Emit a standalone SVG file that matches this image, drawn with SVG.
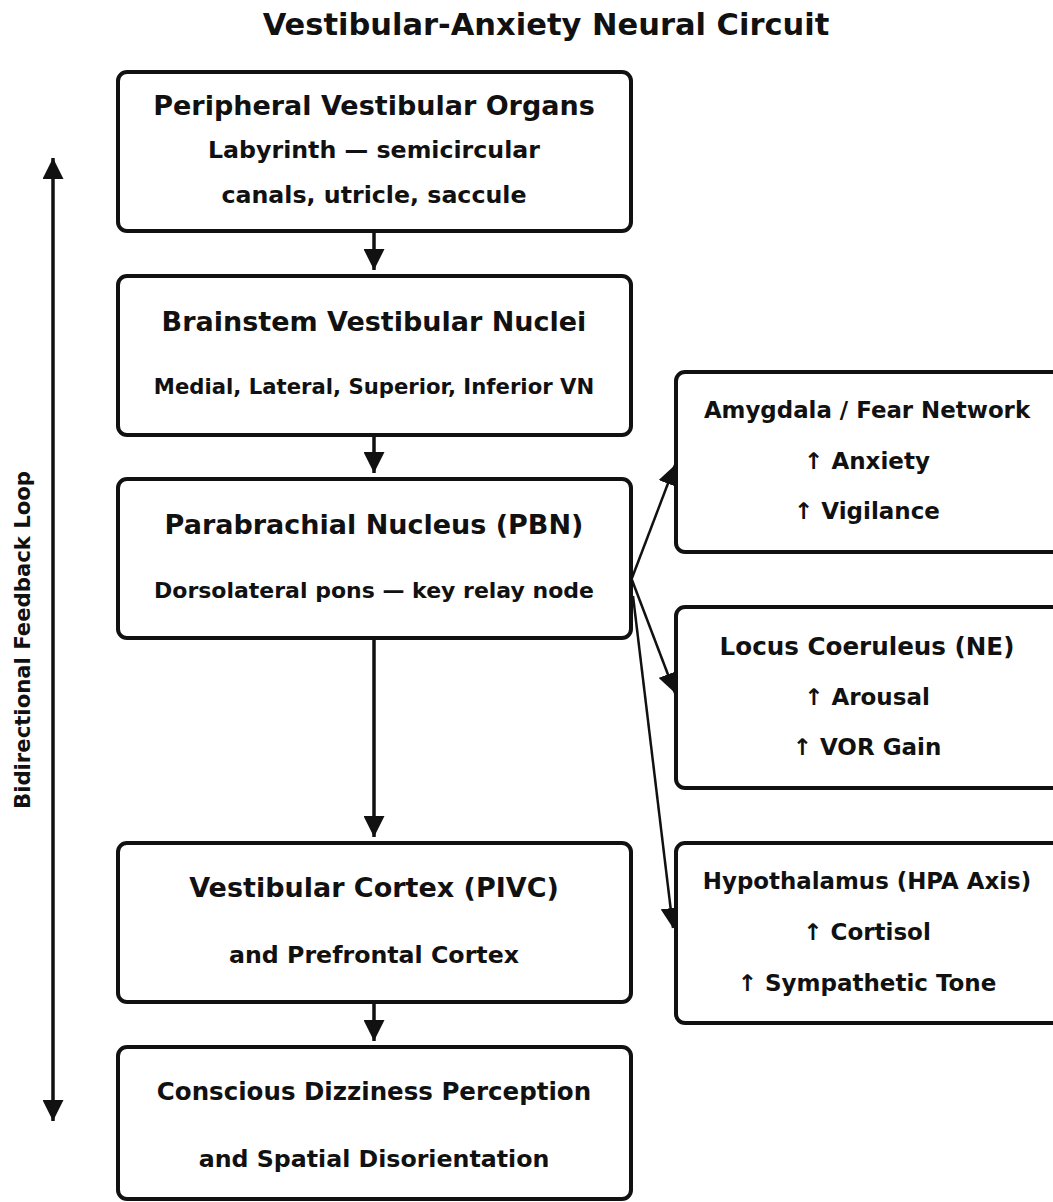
<svg xmlns="http://www.w3.org/2000/svg" width="1053" height="1202" viewBox="0 0 1053 1202">
  <style>
    text { font-family: "DejaVu Sans", "Liberation Sans", sans-serif; font-weight: bold; fill: #111; text-anchor: middle; }
    .box { fill: #fff; stroke: #111; stroke-width: 4; }
    .main { stroke: #111; stroke-width: 3.5; fill: none; }
    .side { stroke: #111; stroke-width: 2.5; fill: none; }
    .t1 { font-size: 27px; }
    .t2 { font-size: 23.7px; }
    .t3 { font-size: 21.2px; }
    .r1 { font-size: 22.9px; }
    .r2 { font-size: 23px; }
  </style>
  <defs>
    <marker id="head" viewBox="0 0 10 10" refX="10" refY="5" markerWidth="6" markerHeight="6" markerUnits="strokeWidth" orient="auto-start-reverse">
      <path d="M0,0 L10,5 L0,10 Z" fill="#111"/>
    </marker>
    <marker id="headS" viewBox="0 0 10 10" refX="10" refY="5" markerWidth="8" markerHeight="8" markerUnits="strokeWidth" orient="auto">
      <path d="M0,0 L10,5 L0,10 Z" fill="#111"/>
    </marker>
  </defs>
  <rect width="1053" height="1202" fill="#fff"/>

  <text x="546" y="35" style="font-size:30.5px">Vestibular-Anxiety Neural Circuit</text>

  <!-- connectors -->
  <g id="connectors">
    <line class="main" x1="374" y1="231" x2="374" y2="270" marker-end="url(#head)"/>
    <line class="main" x1="374" y1="435" x2="374" y2="473" marker-end="url(#head)"/>
    <line class="main" x1="374" y1="638" x2="374" y2="837" marker-end="url(#head)"/>
    <line class="main" x1="374" y1="1002" x2="374" y2="1041" marker-end="url(#head)"/>
    <line class="side" x1="632" y1="578" x2="675" y2="465" marker-end="url(#headS)"/>
    <line class="side" x1="632" y1="580" x2="675" y2="693" marker-end="url(#headS)"/>
    <line class="side" x1="633" y1="596" x2="673" y2="928" marker-end="url(#headS)"/>
    <line class="main" x1="53" y1="158" x2="53" y2="1121" marker-start="url(#head)" marker-end="url(#head)"/>
  </g>
  <text transform="translate(30,640) rotate(-90)" style="font-size:21.2px">Bidirectional Feedback Loop</text>

  <g id="peripheral">
    <rect class="box" x="118" y="72" width="513" height="159" rx="9"/>
    <text class="t1" x="374" y="115">Peripheral Vestibular Organs</text>
    <text class="t2" x="374" y="158">Labyrinth — semicircular</text>
    <text class="t2" x="374" y="203">canals, utricle, saccule</text>
  </g>
  <g id="brainstem">
    <rect class="box" x="118" y="276" width="513" height="159" rx="9"/>
    <text class="t1" x="374" y="331">Brainstem Vestibular Nuclei</text>
    <text class="t3" x="374" y="394">Medial, Lateral, Superior, Inferior VN</text>
  </g>
  <g id="pbn">
    <rect class="box" x="118" y="479" width="513" height="159" rx="9"/>
    <text class="t1" x="374" y="534">Parabrachial Nucleus (PBN)</text>
    <text class="t3" x="374" y="598" style="font-size:22px">Dorsolateral pons — key relay node</text>
  </g>
  <g id="cortex">
    <rect class="box" x="118" y="843" width="513" height="159" rx="9"/>
    <text class="t1" x="374" y="897">Vestibular Cortex (PIVC)</text>
    <text class="t2" x="374" y="963">and Prefrontal Cortex</text>
  </g>
  <g id="perception">
    <rect class="box" x="118" y="1047" width="513" height="152" rx="9"/>
    <text class="t2" x="374" y="1100" style="font-size:24.5px">Conscious Dizziness Perception</text>
    <text class="t2" x="374" y="1167">and Spatial Disorientation</text>
  </g>

  <g id="amygdala">
    <rect class="box" x="676" y="372" width="385" height="180" rx="9"/>
    <text class="r1" x="867" y="418">Amygdala / Fear Network</text>
    <text class="r2" x="867" y="469">↑ Anxiety</text>
    <text class="r2" x="867" y="519">↑ Vigilance</text>
  </g>
  <g id="locus">
    <rect class="box" x="676" y="607" width="385" height="181" rx="9"/>
    <text class="r1" x="867" y="655" style="font-size:24.6px">Locus Coeruleus (NE)</text>
    <text class="r2" x="867" y="705">↑ Arousal</text>
    <text class="r2" x="867" y="755">↑ VOR Gain</text>
  </g>
  <g id="hypothalamus">
    <rect class="box" x="676" y="843" width="385" height="180" rx="9"/>
    <text class="r1" x="867" y="889">Hypothalamus (HPA Axis)</text>
    <text class="r2" x="867" y="940">↑ Cortisol</text>
    <text class="r2" x="867" y="991">↑ Sympathetic Tone</text>
  </g>
</svg>
